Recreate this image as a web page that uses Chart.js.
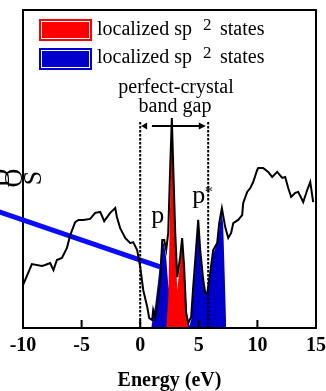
<!DOCTYPE html>
<html>
<head>
<meta charset="utf-8">
<script src="https://cdn.jsdelivr.net/npm/chart.js@4.4.1/dist/chart.umd.min.js"></script>
<style>
  html, body { margin: 0; padding: 0; background: #fff; overflow: hidden; }
</style>
</head>
<body>
<canvas id="dosChart" width="326" height="391"></canvas>
<script>
// total DOS (black curve)
const totalE = [-10.0, -9.24, -8.39, -8.11, -7.68, -7.40, -7.11, -6.68, -6.25, -5.97, -5.55, -5.26, -4.84, -4.27,
  -3.84, -3.41, -3.07, -2.56, -2.13, -1.99, -1.71, -1.28, -0.85, -0.60, -0.26, 0.0, 0.26, 0.60, 0.77, 1.02,
  1.11, 1.28, 1.45, 1.71, 1.88, 2.05, 2.22, 2.39, 2.56, 2.70, 2.82, 2.99, 3.16, 3.41, 3.58, 3.75, 3.92, 4.10,
  4.35, 4.52, 4.78, 4.95, 5.12, 5.38, 5.55, 5.72, 5.97, 6.23, 6.57, 6.74, 6.97, 7.25, 7.51, 7.76, 7.94, 8.36,
  8.70, 8.79, 9.13, 9.39, 9.64, 9.98, 10.07, 10.49, 10.92, 11.26, 11.69, 12.12, 12.37, 12.63, 12.88, 13.23,
  13.48, 13.74, 13.91, 14.25, 14.51, 14.76];
const totalDos = [13.5, 20.1, 19.5, 19.8, 20.4, 18.2, 21.4, 22.0, 25.2, 29.2, 33.3, 34.0, 34.0, 34.3,
  36.2, 36.5, 33.6, 36.2, 37.7, 34.9, 31.4, 28.3, 26.7, 27.0, 24.5, 19.2, 11.9, 6.6, 3.1, 2.5,
  5.7, 3.5, 6.6, 15.1, 27.7, 27.7, 24.5, 29.9, 50.6, 66.0, 50.6, 29.9, 16.0, 22.3, 28.3, 19.2, 4.7, 1.6,
  3.5, 12.9, 25.5, 34.0, 24.5, 15.1, 11.0, 11.0, 17.3, 24.5, 26.7, 33.0, 37.7, 31.8, 28.3, 29.9, 33.0, 34.0,
  35.5, 39.3, 42.8, 44.0, 45.9, 49.7, 50.3, 50.3, 49.1, 47.5, 49.1, 47.2, 47.5, 44.0, 41.2, 42.5,
  42.8, 40.9, 39.6, 43.4, 45.9, 39.6];

// localized states, red
const redE = [2.22, 2.39, 2.56, 2.70, 2.82, 2.99, 3.16, 3.33, 3.58, 3.75, 3.92, 4.10];
const redDos = [0, 8.8, 40.3, 66.0, 52.8, 27.7, 11.9, 17.6, 28.3, 20.8, 8.8, 0];

// localized states, blue
const blueE = [0.94, 1.28, 1.54, 1.71, 1.88, 2.05, 2.22, 2.39, 2.73, 3.24, 3.75, 4.01, 4.18, 4.35, 4.52,
  4.69, 4.86, 4.95, 5.12, 5.38, 5.55, 5.72, 5.97, 6.23, 6.48, 6.74, 6.95, 7.08, 7.21, 7.34];
const blueDos = [0, 7.2, 15.1, 20.8, 27.7, 26.1, 22.0, 13.5, 7.2, 5.7, 5.0, 2.5, 0.6, 2.5, 10.4,
  20.8, 30.2, 33.3, 24.5, 15.1, 11.3, 11.0, 16.7, 23.3, 25.8, 30.8, 37.1, 32.4, 16.7, 0];

// thick blue line
const blueLineE = [-12.1, 1.71];
const blueLineDos = [36.6, 19.2];

const xTicks = [-10, -5, 0, 5, 10, 15];
const gapEdges = [0, 5.8];

const pts = (xs, ys) => xs.map((x, i) => ({ x: x, y: ys[i] }));

const serif = 'Liberation Serif';

const decor = {
  id: 'decor',
  beforeDatasetsDraw(chart) {
    const { ctx, chartArea: a } = chart;
    ctx.save();
    // DOS label (cut at left edge)
    ctx.fillStyle = '#000';
    ctx.font = '26px "' + serif + '"';
    ctx.textAlign = 'center';
    ctx.textBaseline = 'middle';
    [['D', 2], ['O', 15], ['S', 34]].forEach(([c, x]) => {
      ctx.save();
      ctx.translate(x, 178);
      ctx.rotate(-Math.PI / 2);
      ctx.fillText(c, 0, 0);
      ctx.restore();
    });
    // frame
    ctx.strokeStyle = '#000';
    ctx.lineWidth = 2;
    ctx.strokeRect(a.left, a.top, a.right - a.left, a.bottom - a.top);
    ctx.restore();
  },
  afterDatasetsDraw(chart) {
    const { ctx, chartArea: a, scales: { x, y } } = chart;
    ctx.save();
    ctx.strokeStyle = '#000';
    ctx.fillStyle = '#000';

    // bottom border + inner ticks
    ctx.lineWidth = 2;
    ctx.beginPath();
    ctx.moveTo(a.left, a.bottom);
    ctx.lineTo(a.right, a.bottom);
    xTicks.forEach(v => {
      const px = x.getPixelForValue(v);
      ctx.moveTo(px, a.bottom);
      ctx.lineTo(px, a.bottom - 8);
    });
    ctx.stroke();

    // band gap edges
    ctx.lineWidth = 2;
    ctx.setLineDash([2.5, 1.5]);
    gapEdges.forEach(v => {
      const px = x.getPixelForValue(v);
      ctx.beginPath();
      ctx.moveTo(px, 122);
      ctx.lineTo(px, a.bottom);
      ctx.stroke();
    });
    ctx.setLineDash([]);

    // gap arrow
    const ay = 126;
    const x0 = x.getPixelForValue(0.08);
    const x2 = x.getPixelForValue(1.0), x3 = x.getPixelForValue(5.6);
    ctx.lineWidth = 2;
    ctx.beginPath();
    ctx.moveTo(x2, ay);
    ctx.lineTo(x3 - 5, ay);
    ctx.stroke();
    ctx.beginPath();
    ctx.moveTo(x3, ay); ctx.lineTo(x3 - 7, ay - 3.5); ctx.lineTo(x3 - 7, ay + 3.5); ctx.closePath();
    ctx.fill();
    ctx.beginPath();
    ctx.moveTo(x0, ay); ctx.lineTo(x0 + 6, ay - 3.5); ctx.lineTo(x0 + 6, ay + 3.5); ctx.closePath();
    ctx.fill();

    // band gap text
    ctx.font = '20px "' + serif + '"';
    ctx.textAlign = 'center';
    ctx.textBaseline = 'alphabetic';
    ctx.fillText('perfect-crystal', 176, 93);
    ctx.fillText('band gap', 175, 112);

    // p and p* labels
    ctx.font = '26px "' + serif + '"';
    ctx.fillText('p', x.getPixelForValue(1.49), y.getPixelForValue((328 - 223) / 3.18));
    ctx.fillText('p', x.getPixelForValue(5.0), y.getPixelForValue((328 - 203) / 3.18));
    ctx.font = '16px "' + serif + '"';
    ctx.fillText('*', x.getPixelForValue(5.0) + 10, y.getPixelForValue((328 - 203) / 3.18) - 6);

    // legend
    const items = [['#ff0000', 19, 35], ['#0000cc', 48, 63]];
    items.forEach(([col, by, ty]) => {
      ctx.fillStyle = col;
      ctx.fillRect(39, by, 53, 22);
      ctx.strokeStyle = '#fff';
      ctx.lineWidth = 1;
      ctx.strokeRect(41.5, by + 2.5, 48, 17);
      ctx.fillStyle = '#000';
      ctx.textAlign = 'left';
      ctx.font = '20px "' + serif + '"';
      ctx.fillText('localized sp', 97, ty);
      ctx.font = '17px "' + serif + '"';
      ctx.fillText('2', 203, ty - 5);
      ctx.font = '20px "' + serif + '"';
      ctx.fillText('states', 220, ty);
    });
    ctx.restore();
  }
};

new Chart(document.getElementById('dosChart'), {
  type: 'line',
  data: {
    datasets: [
      { label: 'Total DOS', data: pts(totalE, totalDos), borderColor: '#000', borderWidth: 2, pointRadius: 0, fill: false, tension: 0 },
      { label: 'line', data: pts(blueLineE, blueLineDos), borderColor: '#0a0aff', borderWidth: 5, pointRadius: 0, fill: false, clip: false },
      { label: 'localized sp2 states', data: pts(redE, redDos), borderWidth: 0, borderColor: 'rgba(0,0,0,0)', backgroundColor: '#ff0000', pointRadius: 0, fill: 'origin' },
      { label: 'localized sp2 states', data: pts(blueE, blueDos), borderWidth: 0, borderColor: 'rgba(0,0,0,0)', backgroundColor: '#0000cc', pointRadius: 0, fill: 'origin' }
    ]
  },
  options: {
    responsive: false,
    devicePixelRatio: 1,
    animation: false,
    layout: { padding: { left: 23, right: 10, top: 10, bottom: 0 } },
    plugins: { legend: { display: false }, tooltip: { enabled: false } },
    scales: {
      x: {
        type: 'linear', min: -10, max: 15,
        afterBuildTicks: s => { s.ticks = xTicks.map(v => ({ value: v })); },
        grid: { display: false, drawTicks: false },
        border: { display: false },
        ticks: { color: '#000', font: { family: serif, size: 20, weight: 'bold' }, padding: 6, maxRotation: 0, autoSkip: false },
        title: { display: true, text: 'Energy (eV)', color: '#000', font: { family: serif, size: 20, weight: 'bold' }, padding: { top: 0, bottom: -2 } },
        afterFit: s => { s.height = 63; s.paddingLeft = 0; s.paddingRight = 0; }
      },
      y: { display: false, min: 0, max: 100 }
    }
  },
  plugins: [decor]
});
</script>
</body>
</html>
